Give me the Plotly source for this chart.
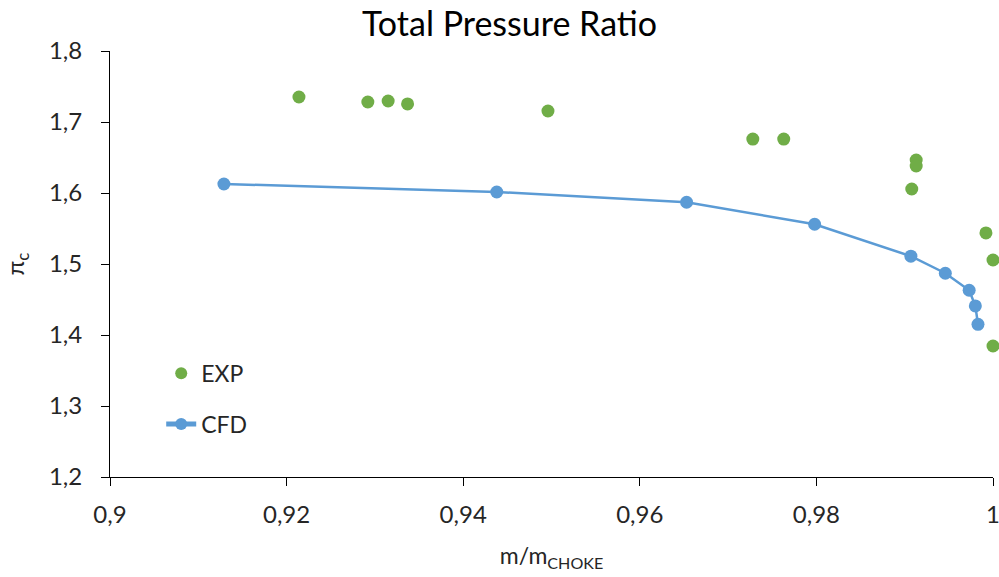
import plotly.graph_objects as go

exp_x = [0.9214, 0.9292, 0.9315, 0.9337, 0.9496, 0.9728, 0.9763, 0.9913, 0.9913, 0.9908, 0.9992, 1.0000, 1.0000]
exp_y = [1.7352, 1.7282, 1.7296, 1.7254, 1.7155, 1.676, 1.676, 1.6465, 1.638, 1.6056, 1.5437, 1.5056, 1.3845]

cfd_x = [0.9129, 0.9438, 0.9653, 0.9798, 0.9907, 0.9946, 0.9973, 0.9980, 0.9983]
cfd_y = [1.6127, 1.6014, 1.587, 1.556, 1.511, 1.487, 1.463, 1.441, 1.415]

x_ticks = [0.9, 0.92, 0.94, 0.96, 0.98, 1.0]
x_labels = ["0,9", "0,92", "0,94", "0,96", "0,98", "1"]
y_ticks = [1.2, 1.3, 1.4, 1.5, 1.6, 1.7, 1.8]
y_labels = ["1,2", "1,3", "1,4", "1,5", "1,6", "1,7", "1,8"]

FONT = "Lato, Open Sans, sans-serif"
TXT = "#262626"

fig = go.Figure()
fig.add_trace(go.Scatter(
    x=exp_x, y=exp_y, mode="markers", name="EXP", legendgroup="a",
    marker=dict(color="#70AD47", size=13), cliponaxis=False))
fig.add_trace(go.Scatter(
    x=cfd_x, y=cfd_y, mode="lines+markers", name="CFD", legendgroup="b",
    line=dict(color="#5B9BD5", width=2.5),
    marker=dict(color="#5B9BD5", size=13), cliponaxis=False))

fig.update_layout(
    width=999, height=577,
    margin=dict(l=110, r=6, t=51, b=100, autoexpand=False),
    paper_bgcolor="white", plot_bgcolor="white",
    font=dict(family=FONT, size=24, color=TXT),
    title=dict(text="Total Pressure Ratio", x=0.51, xanchor="center", y=0.958, yanchor="middle",
               font=dict(family=FONT, size=34, color="#000000")),
    showlegend=True,
    legend=dict(x=0.058, y=0.294, xanchor="left", yanchor="top",
                bgcolor="rgba(0,0,0,0)", font=dict(size=23, color=TXT),
                tracegroupgap=18, itemsizing="constant"),
    xaxis=dict(range=[0.9, 1.0], tickvals=x_ticks, ticktext=x_labels,
               showgrid=False, zeroline=False, showline=True, linecolor="#000000", linewidth=1,
               ticks="outside", ticklen=8, tickcolor="#000000", ticklabelstandoff=8,
               ticklabeloverflow="allow",
               title=dict(text="m/m<sub>CHOKE</sub>", font=dict(size=23, color=TXT), standoff=21)),
    yaxis=dict(range=[1.2, 1.8], tickvals=y_ticks, ticktext=y_labels,
               showgrid=False, zeroline=False, showline=True, linecolor="#000000", linewidth=1,
               ticks="outside", ticklen=8, tickcolor="#000000", ticklabelstandoff=14,
               title=dict(text="π<sub>c</sub>", font=dict(size=24, color=TXT), standoff=22)),
)

fig.write_html("out.html")
